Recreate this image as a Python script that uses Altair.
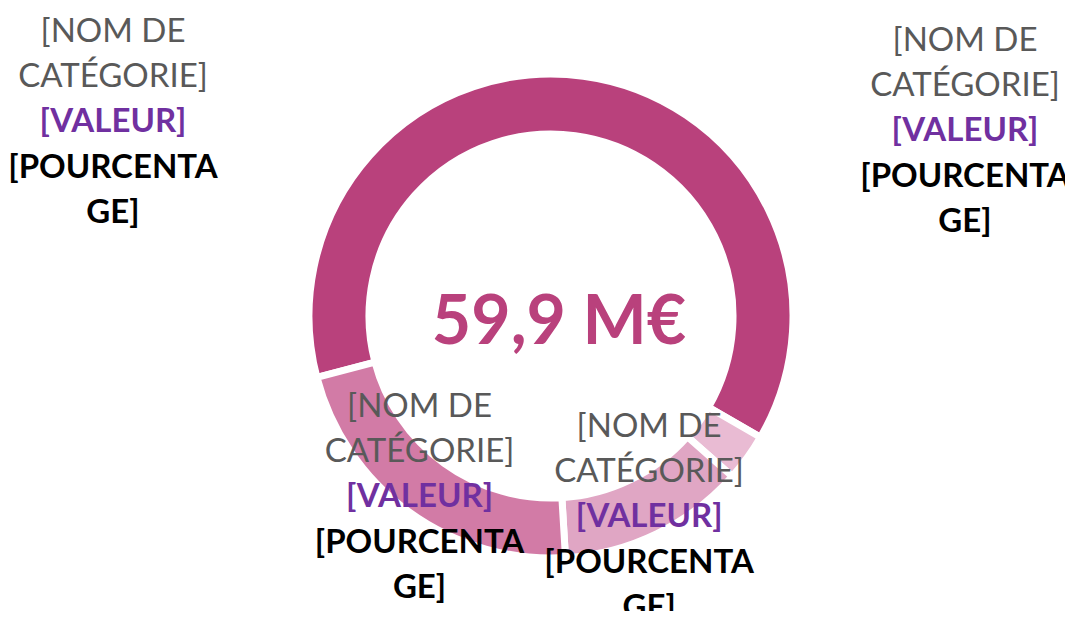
import math
import altair as alt
import pandas as pd

# ---- data ----
categories = ["Catégorie 1", "Catégorie 2", "Catégorie 3", "Catégorie 4"]
values = [37.4, 1.9, 7.5, 13.1]          # M€ (total 59,9 M€)
colors = ["#B9417C", "#E9BBD3", "#E0A6C4", "#D27BA6"]
total_label = "59,9 M€"
name_text = "[NOM DE\nCATÉGORIE]"
value_text = "[VALEUR]"
pct_text = "[POURCENTA\nGE]"

# ---- layout / style ----
W, H = 1057, 603
CX, CY = 543, 308
START = math.radians(255.3)
FONT = "Lato"
FS = 33
LH = 45
GRAY, PURPLE, BLACK = "#595959", "#7030A0", "#000000"
# manually moved labels (chart pixel coords of the [VALEUR] line)
moved_labels = [(105, 114), (957, 123)]

df = pd.DataFrame({"cat": categories, "value": values, "idx": list(range(len(values)))})

theta_scale = alt.Scale(range=[START, START + 2 * math.pi])

base = alt.Chart(df).encode(
    theta=alt.Theta("value:Q", stack=True, scale=theta_scale),
    order=alt.Order("idx:Q"),
)

ring = base.mark_arc(outerRadius=242, innerRadius=182, stroke="white", strokeWidth=7).encode(
    color=alt.Color("cat:N", scale=alt.Scale(domain=categories, range=colors), legend=None),
    x=alt.value(CX),
    y=alt.value(CY),
)

inside = alt.when("datum.idx >= 2").then(alt.value(1)).otherwise(alt.value(0))


def ring_text(text, dy, color, weight):
    return base.mark_text(
        radius=224, dy=dy, fontSize=FS, font=FONT, fontWeight=weight, color=color,
        lineBreak="\n", lineHeight=LH, baseline="middle", align="center",
    ).encode(text=alt.value(text), x=alt.value(CX), y=alt.value(CY), opacity=inside)


def free_text(px, py, text, dy, color, weight):
    return alt.Chart(df.head(1)).mark_text(
        dy=dy, fontSize=FS, font=FONT, fontWeight=weight, color=color,
        lineBreak="\n", lineHeight=LH, baseline="middle", align="center",
    ).encode(text=alt.value(text), x=alt.value(px), y=alt.value(py))


layers = [ring]
layers += [
    ring_text(name_text, -90, GRAY, "normal"),
    ring_text(value_text, 0, PURPLE, "bold"),
    ring_text(pct_text, 46, BLACK, "bold"),
]
for px, py in moved_labels:
    layers += [
        free_text(px, py, name_text, -90, GRAY, "normal"),
        free_text(px, py, value_text, 0, PURPLE, "bold"),
        free_text(px, py, pct_text, 46, BLACK, "bold"),
    ]

center = alt.Chart(df.head(1)).mark_text(
    fontSize=68, font=FONT, fontWeight="bold", color="#B9417C",
    baseline="alphabetic", align="center",
).encode(text=alt.value(total_label), x=alt.value(CX + 8), y=alt.value(336))
layers.append(center)

chart = alt.layer(*layers).properties(
    width=W, height=H, padding=0,
    autosize=alt.AutoSizeParams(type="none"),
).configure_view(stroke=None)

chart.save("out.html", embed_options={"renderer": "svg", "actions": False})
